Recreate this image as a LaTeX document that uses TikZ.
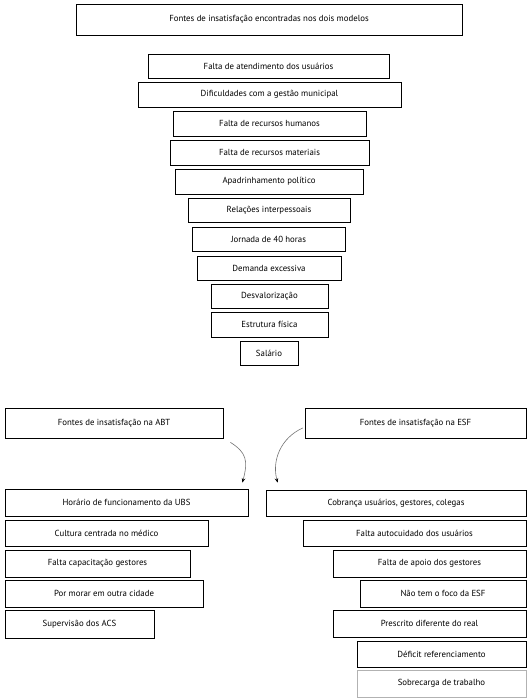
\documentclass[tikz,border=0pt]{standalone}
\usepackage{fontspec}
\setmainfont{PT Sans}
\usetikzlibrary{arrows.meta,calc}
\tikzset{
  bx/.style={draw=black, line width=0.7pt, inner sep=0pt, font=\fontsize{8.8}{10}\selectfont},
  lbx/.style={bx, draw=gray!60},
  curvearrow/.style={draw=black!55, line width=0.6pt, -{Stealth[length=4.5pt,width=3.5pt,color=black]}}
}
\begin{document}
\begin{tikzpicture}[x=1pt,y=-1pt]
\useasboundingbox (0,0) rectangle (530,700);
% top column
\node[bx, minimum width=386pt, minimum height=31pt] (top) at (269,19.5) {Fontes de insatisfação encontradas nos dois modelos};
\node[bx, minimum width=241pt, minimum height=24pt] (b1) at (268.5,66) {Falta de atendimento dos usuários};
\node[bx, minimum width=263pt, minimum height=25pt] (b2) at (269.5,94.5) {Dificuldades com a gestão municipal};
\node[bx, minimum width=193pt, minimum height=25pt] (b3) at (269.5,123.5) {Falta de recursos humanos};
\node[bx, minimum width=199pt, minimum height=25pt] (b4) at (269.5,152.5) {Falta de recursos materiais};
\node[bx, minimum width=188pt, minimum height=25pt] (b5) at (269,181.5) {Apadrinhamento político};
\node[bx, minimum width=162pt, minimum height=24pt] (b6) at (269,210) {Relações interpessoais};
\node[bx, minimum width=153pt, minimum height=24pt] (b7) at (268.5,239) {Jornada de 40 horas};
\node[bx, minimum width=144pt, minimum height=24pt] (b8) at (269,268) {Demanda excessiva};
\node[bx, minimum width=117pt, minimum height=24pt] (b9) at (269.5,296) {Desvalorização};
\node[bx, minimum width=117pt, minimum height=25pt] (b10) at (269.5,324.5) {Estrutura física};
\node[bx, minimum width=58pt, minimum height=24pt] (b11) at (269,353) {Salário};
% left column
\node[bx, minimum width=218pt, minimum height=30pt] (abt) at (114,423) {Fontes de insatisfação na ABT};
\node[bx, minimum width=243pt, minimum height=27pt] (l1) at (126.5,502.5) {Horário de funcionamento da UBS};
\node[bx, minimum width=203pt, minimum height=26pt] (l2) at (106.5,533) {Cultura centrada no médico};
\node[bx, minimum width=185pt, minimum height=27pt] (l3) at (97.5,563.5) {Falta capacitação gestores};
\node[bx, minimum width=198pt, minimum height=27pt] (l4) at (104,593.5) {Por morar em outra cidade};
\node[bx, minimum width=149pt, minimum height=28pt] (l5) at (79.5,624) {Supervisão dos ACS};
% right column
\node[bx, minimum width=221pt, minimum height=30pt] (esf) at (415.5,423) {Fontes de insatisfação na ESF};
\node[bx, minimum width=260pt, minimum height=26pt] (r1) at (396,503) {Cobrança usuários, gestores, colegas};
\node[bx, minimum width=223pt, minimum height=26pt] (r2) at (414.5,533) {Falta autocuidado dos usuários};
\node[bx, minimum width=193pt, minimum height=27pt] (r3) at (429.5,563.5) {Falta de apoio dos gestores};
\node[bx, minimum width=166pt, minimum height=27pt] (r4) at (443,593.5) {Não tem o foco da ESF};
\node[bx, minimum width=193pt, minimum height=27pt] (r5) at (429.5,623.5) {Prescrito diferente do real};
\node[bx, minimum width=169pt, minimum height=26pt] (r6) at (441.5,654) {Déficit referenciamento};
\node[lbx, minimum width=169pt, minimum height=27pt] (r7) at (441.5,683.5) {Sobrecarga de trabalho};
% arrows
\coordinate (abtend) at ([xshift=7pt,yshift=-4pt]abt.south east);
\coordinate (esfstart) at ([xshift=-2pt,yshift=-5pt]esf.west);
\draw[curvearrow] (abtend) .. controls +(16,10) and +(6,-22) .. ([xshift=-6pt,yshift=6pt]l1.north east);
\draw[curvearrow] (esfstart) .. controls +(-22,10) and +(-6,-22) .. ([xshift=12pt,yshift=7pt]r1.north west);
\end{tikzpicture}
\end{document}
